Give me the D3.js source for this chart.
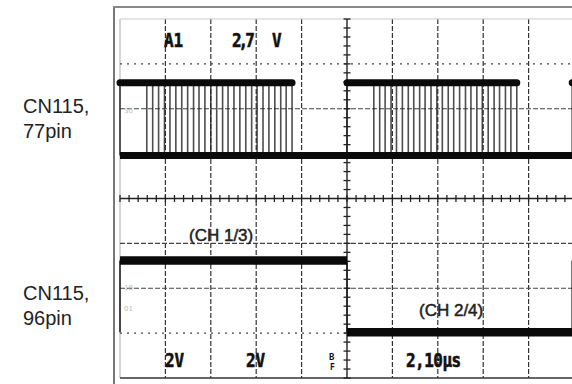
<!DOCTYPE html>
<html><head><meta charset="utf-8">
<script src="https://cdn.jsdelivr.net/npm/d3@7"></script>
<style>body{margin:0;background:#fff}svg{display:block}</style>
</head><body><svg id="c" width="572" height="384"></svg>
<script>
// ---- data (time in µs, 10 µs/div; level in screen divisions) ----
const xTicks = [0,10,20,30,40,50,60,70,80,90,100];
const yTicks = [-4,-3,-2,-1,0,1,2,3,4];
const chA_bursts = [[0,37.9],[50,87.4],[99.6,100]];
const chA_high = 2.58, chA_low = 0.96;
const chA_pulses = [5.9,7.2,8.5,9.8,11.0,12.3,13.6,14.9,16.2,17.4,18.7,20.0,21.3,22.6,23.8,25.1,26.4,27.7,29.0,30.2,31.5,32.8,34.1,35.4,36.6,37.9,
  55.9,57.2,58.4,59.7,60.9,62.2,63.5,64.7,66.0,67.2,68.5,69.8,71.0,72.3,73.5,74.8,76.1,77.3,78.6,79.8,81.1,82.4,83.6,84.9,86.1,87.4];
const chB_high_segments = [[0,50],[99.6,100]];
const chB_low_segments = [[50,99.6]];
const chB_edges = [0,50,99.6];
const chB_high = -1.38, chB_low = -2.98;
const sideLabels = [["CN115,","77pin"],["CN115,","96pin"]];
const chLabels = ["(CH 1/3)","(CH 2/4)"];
const readouts = [
  {t:"A1", x:164, y:47, ls:0},
  {t:"2,7", x:232, y:47, ls:-3},
  {t:"V", x:272, y:47, ls:0},
  {t:"2V", x:165, y:367, ls:0},
  {t:"2V", x:246, y:367, ls:0},
  {t:"2,10µs", x:406, y:367, ls:-0.5}
];

const svg = d3.select("#c");
const x = d3.scaleLinear().domain([0,100]).range([120,574]);
const y = d3.scaleLinear().domain([-4,4]).range([378,19]);

// outer frame
svg.append("line").attr("x1",114).attr("x2",114).attr("y1",7).attr("y2",384).attr("stroke","#777").attr("stroke-width",2);
svg.append("line").attr("x1",113).attr("x2",572).attr("y1",7).attr("y2",7).attr("stroke","#888").attr("stroke-width",2);

// grid
const g = svg.append("g");
g.selectAll("line.v").data(xTicks.filter(d=>d!==50)).join("line")
  .attr("x1",d=>x(d)).attr("x2",d=>x(d)).attr("y1",y(4)).attr("y2",y(-4))
  .attr("stroke",d=>d===0?"#bbb":"#333").attr("stroke-width",1.2).attr("stroke-dasharray",d=>d===0?null:"5,2");
g.selectAll("line.h").data(yTicks.filter(d=>d!==0)).join("line")
  .attr("x1",x(0)).attr("x2",x(100)).attr("y1",d=>y(d)).attr("y2",d=>y(d))
  .attr("stroke",d=>d===4?"#ccc":(d===-4?"#333":"#444")).attr("stroke-width",d=>d===-4?1.6:1.2)
  .attr("stroke-dasharray",d=>(d===4||d===-4)?null:(d===3||d===1||d===-3?"2,5":"5,2"));
// center axes with minor ticks
g.append("line").attr("x1",x(50)).attr("x2",x(50)).attr("y1",y(4)).attr("y2",y(-4)).attr("stroke","#222").attr("stroke-width",1.4);
g.append("line").attr("x1",x(0)).attr("x2",x(100)).attr("y1",y(0)).attr("y2",y(0)).attr("stroke","#222").attr("stroke-width",1.4);
const minorY = d3.range(-4,4.001,0.2);
const minorX = d3.range(0,100.001,2);
g.selectAll("line.my").data(minorY).join("line")
  .attr("x1",x(50)-3.5).attr("x2",x(50)+3.5).attr("y1",d=>y(d)).attr("y2",d=>y(d)).attr("stroke","#222").attr("stroke-width",1.3);
g.selectAll("line.mx").data(minorX).join("line")
  .attr("x1",d=>x(d)).attr("x2",d=>x(d)).attr("y1",y(0)-3.5).attr("y2",y(0)+3.5).attr("stroke","#222").attr("stroke-width",1.3);

// faint graticule numbers
[["30",1.98],["18",-1.98],["01",-2.43]].forEach(([t,v])=>{
  svg.append("text").attr("x",124).attr("y",y(v)+3).attr("font-family","DejaVu Sans").attr("font-size",7).attr("fill","#bbb").text(t);
});

// ---- channel A ----
const tr = svg.append("g");
tr.selectAll("line.pulse").data(chA_pulses).join("line")
  .attr("x1",d=>x(d)).attr("x2",d=>x(d)).attr("y1",y(chA_high)).attr("y2",y(chA_low))
  .attr("stroke","#222").attr("stroke-width",1.6).attr("opacity",0.8);
tr.selectAll("line.edgeA").data(chA_bursts).join("line")
  .attr("x1",d=>x(d[0])).attr("x2",d=>x(d[0])).attr("y1",y(chA_high)).attr("y2",y(chA_low))
  .attr("stroke","#222").attr("stroke-width",1.4);
tr.append("line").attr("x1",x(0)).attr("x2",x(100)).attr("y1",y(chA_low)).attr("y2",y(chA_low))
  .attr("stroke","#0a0a0a").attr("stroke-width",7);
tr.selectAll("line.hiA").data(chA_bursts).join("line")
  .attr("x1",d=>x(d[0])).attr("x2",d=>x(d[1])).attr("y1",y(chA_high)).attr("y2",y(chA_high))
  .attr("stroke","#0a0a0a").attr("stroke-width",7).attr("stroke-linecap","round");

// ---- channel B ----
tr.selectAll("line.edgeB").data(chB_edges).join("line")
  .attr("x1",d=>x(d)).attr("x2",d=>x(d)).attr("y1",y(chB_high)).attr("y2",y(chB_low))
  .attr("stroke","#222").attr("stroke-width",1.6);
tr.selectAll("line.hiB").data(chB_high_segments).join("line")
  .attr("x1",d=>x(d[0])).attr("x2",d=>x(d[1])).attr("y1",y(chB_high)).attr("y2",y(chB_high))
  .attr("stroke","#0a0a0a").attr("stroke-width",8.5);
tr.selectAll("line.loB").data(chB_low_segments).join("line")
  .attr("x1",d=>x(d[0])).attr("x2",d=>x(d[1])).attr("y1",y(chB_low)).attr("y2",y(chB_low))
  .attr("stroke","#0a0a0a").attr("stroke-width",8.5);

// ---- scope readouts ----
svg.selectAll("text.ro").data(readouts).join("text").attr("class","ro")
  .attr("font-family","DejaVu Sans Mono").attr("font-weight","bold")
  .attr("font-size",16).attr("fill","#111").attr("stroke","#111").attr("stroke-width",0.5)
  .attr("letter-spacing",d=>d.ls)
  .attr("transform",d=>`translate(${d.x},${d.y}) scale(1,1.18)`).text(d=>d.t);
// trigger marker
svg.append("text").attr("font-family","DejaVu Sans Mono").attr("font-weight","bold").attr("font-size",9).attr("fill","#111")
  .attr("x",329).attr("y",360).text("B");
svg.append("text").attr("font-family","DejaVu Sans Mono").attr("font-weight","bold").attr("font-size",8).attr("fill","#111")
  .attr("x",330).attr("y",370).text("F");

// ---- annotations ----
svg.selectAll("text.ch").data(chLabels).join("text")
  .attr("x",(d,i)=>i===0?189:419).attr("y",(d,i)=>i===0?241:316)
  .attr("font-family","Liberation Sans, Arial").attr("font-size",17).attr("fill","#222")
  .attr("stroke","#222").attr("stroke-width",0.5).text(d=>d);
const side = svg.selectAll("g.side").data(sideLabels).join("g")
  .attr("transform",(d,i)=>`translate(23,${i===0?113:300})`);
side.append("text").attr("font-family","Liberation Sans, Arial").attr("font-size",20).attr("fill","#222").text(d=>d[0]);
side.append("text").attr("y",25).attr("font-family","Liberation Sans, Arial").attr("font-size",20).attr("fill","#222").text(d=>d[1]);
</script></body></html>
